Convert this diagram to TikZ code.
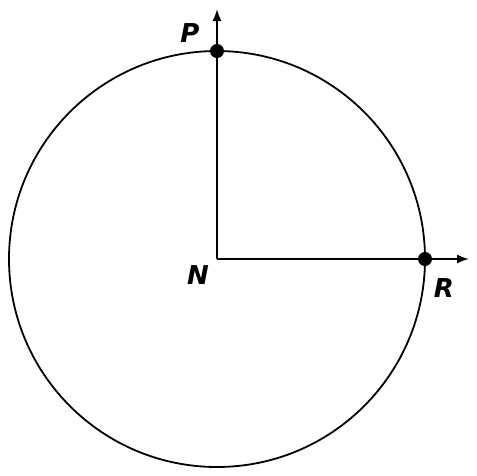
\documentclass[tikz,border=0pt]{standalone}
\usepackage{fontspec}
\setmainfont{DejaVu Sans}
\usepackage{tikz}
\usetikzlibrary{arrows.meta}

\begin{document}
\begin{tikzpicture}
[x=1pt,y=-1pt,
 axis/.style={line width=1.8pt,-{Latex[length=12pt,width=9pt]}},
 dot/.style={circle,fill=black,inner sep=0pt,minimum size=14pt},
 lab/.style={font=\fontsize{26}{26}\selectfont\bfseries\itshape,inner sep=0pt}]
\useasboundingbox (0,0) rectangle (477,475);
\coordinate (center) at (217,259);
\coordinate (top)    at (217,9);
\coordinate (right)  at (469,259);
\draw[line width=1.8pt] (center) circle (208);
\node[dot] (p) at (217,51) {};
\node[dot] (r) at (425,259) {};
\path (center) edge[axis] (top)
               edge[axis] (right);
\node[lab] (plabel) at (190,33) {P};
\node[lab] (nlabel) at (198,275) {N};
\node[lab] (rlabel) at (444,288) {R};
\end{tikzpicture}
\end{document}
